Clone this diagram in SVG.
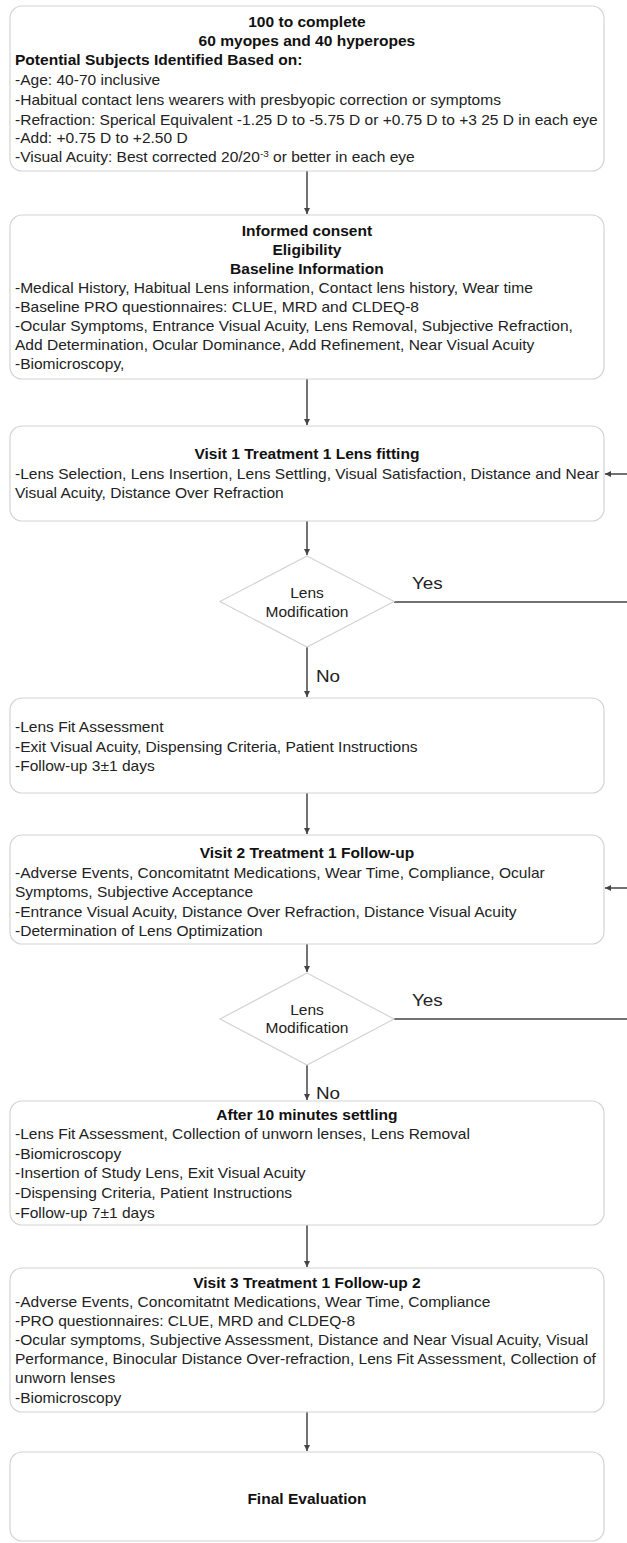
<svg xmlns="http://www.w3.org/2000/svg" width="627" height="1543" viewBox="0 0 627 1543">
<style>
.box{fill:#fff;stroke:#d4d4d4;stroke-width:1.2}
.dia{fill:#fff;stroke:#d4d4d4;stroke-width:1.2}
.t{font-family:"Liberation Sans",Arial,sans-serif;font-size:14px;fill:#222}
.b{font-weight:bold;fill:#111}
.c{text-anchor:middle}
.lbl{font-family:"Liberation Sans",Arial,sans-serif;font-size:17px;fill:#222}
.conn{stroke:#444;stroke-width:1.5;fill:none}
</style>
<defs>
<marker id="ah" viewBox="0 0 10 10" refX="10" refY="5" markerWidth="6" markerHeight="6" markerUnits="userSpaceOnUse" orient="auto"><path d="M0,0 L10,5 L0,10 z" fill="#444"/></marker>
</defs>
<rect width="627" height="1543" fill="#fff"/>

<g id="connectors">
<line class="conn" x1="307" y1="171" x2="307" y2="214" marker-end="url(#ah)"/>
<line class="conn" x1="307" y1="379" x2="307" y2="425" marker-end="url(#ah)"/>
<line class="conn" x1="307" y1="521" x2="307" y2="555" marker-end="url(#ah)"/>
<line class="conn" x1="307" y1="647" x2="307" y2="697" marker-end="url(#ah)"/>
<line class="conn" x1="307" y1="793" x2="307" y2="834" marker-end="url(#ah)"/>
<line class="conn" x1="307" y1="944" x2="307" y2="972" marker-end="url(#ah)"/>
<line class="conn" x1="307" y1="1065" x2="307" y2="1100" marker-end="url(#ah)"/>
<line class="conn" x1="307" y1="1225" x2="307" y2="1267" marker-end="url(#ah)"/>
<line class="conn" x1="307" y1="1412" x2="307" y2="1451" marker-end="url(#ah)"/>
<path class="conn" d="M394,602 H632 V474 H605" marker-end="url(#ah)"/>
<path class="conn" d="M394,1019 H632 V888 H605" marker-end="url(#ah)"/>
<text class="lbl" transform="translate(412,589) scale(1.11,1)">Yes</text>
<text class="lbl" transform="translate(316,682) scale(1.11,1)">No</text>
<text class="lbl" transform="translate(412,1006) scale(1.11,1)">Yes</text>
<text class="lbl" transform="translate(316,1099) scale(1.11,1)">No</text>
</g>

<g id="n1">
<rect class="box" x="10" y="6" width="594" height="165" rx="12"/>
<g transform="matrix(1.11 0 0 1 -1.65 0)">
<text class="t b c" x="278" y="27">100 to complete</text>
<text class="t b c" x="278" y="46">60 myopes and 40 hyperopes</text>
<text class="t b" x="15" y="65">Potential Subjects Identified Based on:</text>
<text class="t" x="15" y="85">-Age: 40-70 inclusive</text>
<text class="t" x="15" y="105">-Habitual contact lens wearers with presbyopic correction or symptoms</text>
<text class="t" x="15" y="125">-Refraction: Sperical Equivalent -1.25 D to -5.75 D or +0.75 D to +3 25 D in each eye</text>
<text class="t" x="15" y="143">-Add: +0.75 D to +2.50 D</text>
<text class="t" x="15" y="162">-Visual Acuity: Best corrected 20/20<tspan dy="-5" font-size="9">-3</tspan><tspan dy="5"> or better in each eye</tspan></text>
</g>
</g>

<g id="n2">
<rect class="box" x="10" y="215" width="594" height="164" rx="12"/>
<g transform="matrix(1.11 0 0 1 -1.65 0)">
<text class="t b c" x="278" y="236">Informed consent</text>
<text class="t b c" x="278" y="255">Eligibility</text>
<text class="t b c" x="278" y="274">Baseline Information</text>
<text class="t" x="15" y="293">-Medical History, Habitual Lens information, Contact lens history, Wear time</text>
<text class="t" x="15" y="312">-Baseline PRO questionnaires: CLUE, MRD and CLDEQ-8</text>
<text class="t" x="15" y="331">-Ocular Symptoms, Entrance Visual Acuity, Lens Removal, Subjective Refraction,</text>
<text class="t" x="15" y="350">Add Determination, Ocular Dominance, Add Refinement, Near Visual Acuity</text>
<text class="t" x="15" y="369">-Biomicroscopy,</text>
</g>
</g>

<g id="n3">
<rect class="box" x="10" y="426" width="594" height="95" rx="12"/>
<g transform="matrix(1.11 0 0 1 -1.65 0)">
<text class="t b c" x="278" y="459">Visit 1 Treatment 1 Lens fitting</text>
<text class="t" x="15" y="479">-Lens Selection, Lens Insertion, Lens Settling, Visual Satisfaction, Distance and Near</text>
<text class="t" x="15" y="498">Visual Acuity, Distance Over Refraction</text>
</g>
</g>

<g id="d1">
<polygon class="dia" points="307,556 394,601.5 307,647 220,601.5"/>
<g transform="matrix(1.11 0 0 1 -33.77 0)">
<text class="t c" x="307" y="598">Lens</text>
<text class="t c" x="307" y="617">Modification</text>
</g>
</g>

<g id="n4">
<rect class="box" x="10" y="698" width="594" height="95" rx="12"/>
<g transform="matrix(1.11 0 0 1 -1.65 0)">
<text class="t" x="15" y="732">-Lens Fit Assessment</text>
<text class="t" x="15" y="752">-Exit Visual Acuity, Dispensing Criteria, Patient Instructions</text>
<text class="t" x="15" y="771">-Follow-up 3±1 days</text>
</g>
</g>

<g id="n5">
<rect class="box" x="10" y="835" width="594" height="109" rx="12"/>
<g transform="matrix(1.11 0 0 1 -1.65 0)">
<text class="t b c" x="278" y="858">Visit 2 Treatment 1 Follow-up</text>
<text class="t" x="15" y="878">-Adverse Events, Concomitatnt Medications, Wear Time, Compliance, Ocular</text>
<text class="t" x="15" y="897">Symptoms, Subjective Acceptance</text>
<text class="t" x="15" y="917">-Entrance Visual Acuity, Distance Over Refraction, Distance Visual Acuity</text>
<text class="t" x="15" y="936">-Determination of Lens Optimization</text>
</g>
</g>

<g id="d2">
<polygon class="dia" points="307,973 394,1019 307,1065 220,1019"/>
<g transform="matrix(1.11 0 0 1 -33.77 0)">
<text class="t c" x="307" y="1015">Lens</text>
<text class="t c" x="307" y="1033">Modification</text>
</g>
</g>

<g id="n6">
<rect class="box" x="10" y="1101" width="594" height="124" rx="12"/>
<g transform="matrix(1.11 0 0 1 -1.65 0)">
<text class="t b c" x="278" y="1120">After 10 minutes settling</text>
<text class="t" x="15" y="1139">-Lens Fit Assessment, Collection of unworn lenses, Lens Removal</text>
<text class="t" x="15" y="1159">-Biomicroscopy</text>
<text class="t" x="15" y="1178">-Insertion of Study Lens, Exit Visual Acuity</text>
<text class="t" x="15" y="1198">-Dispensing Criteria, Patient Instructions</text>
<text class="t" x="15" y="1218">-Follow-up 7±1 days</text>
</g>
</g>

<g id="n7">
<rect class="box" x="10" y="1268" width="594" height="144" rx="12"/>
<g transform="matrix(1.11 0 0 1 -1.65 0)">
<text class="t b c" x="278" y="1288">Visit 3 Treatment 1 Follow-up 2</text>
<text class="t" x="15" y="1307">-Adverse Events, Concomitatnt Medications, Wear Time, Compliance</text>
<text class="t" x="15" y="1326">-PRO questionnaires: CLUE, MRD and CLDEQ-8</text>
<text class="t" x="15" y="1345">-Ocular symptoms, Subjective Assessment, Distance and Near Visual Acuity, Visual</text>
<text class="t" x="15" y="1364">Performance, Binocular Distance Over-refraction, Lens Fit Assessment, Collection of</text>
<text class="t" x="15" y="1383">unworn lenses</text>
<text class="t" x="15" y="1403">-Biomicroscopy</text>
</g>
</g>

<g id="n8">
<rect class="box" x="10" y="1452" width="594" height="89" rx="12"/>
<g transform="matrix(1.11 0 0 1 -1.65 0)">
<text class="t b c" x="278" y="1504">Final Evaluation</text>
</g>
</g>
</svg>
